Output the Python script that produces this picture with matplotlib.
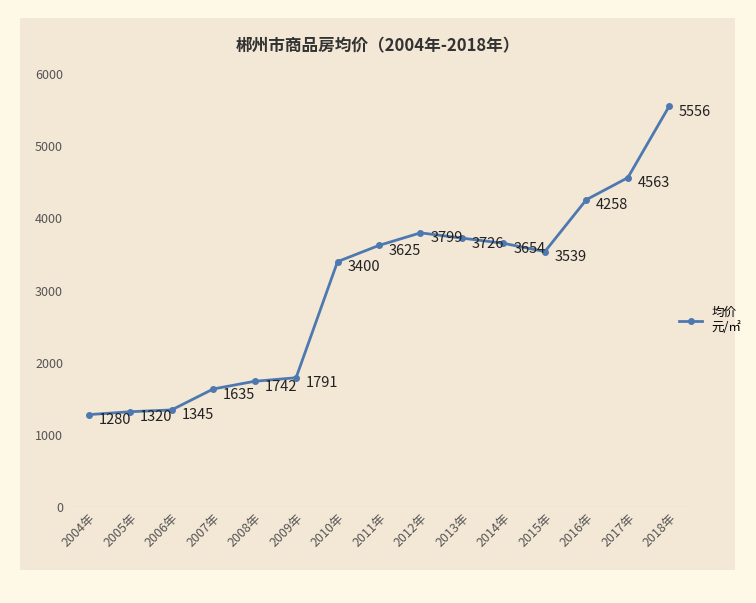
import matplotlib
matplotlib.use("Agg")
import matplotlib.pyplot as plt
from matplotlib.patches import Rectangle
from matplotlib import font_manager as fm

names = sorted({f.name for f in fm.fontManager.ttflist})
cjk = next((n for n in names if "Sans CJK SC" in n), None) or next((n for n in names if "Sans CJK" in n), "Noto Sans CJK SC")
plt.rcParams["font.family"] = "sans-serif"
plt.rcParams["font.sans-serif"] = [cjk, "DejaVu Sans"]

years = ["2004年","2005年","2006年","2007年","2008年","2009年","2010年","2011年","2012年",
         "2013年","2014年","2015年","2016年","2017年","2018年"]
prices = [1280,1320,1345,1635,1742,1791,3400,3625,3799,3726,3654,3539,4258,4563,5556]
yticks = [0,1000,2000,3000,4000,5000,6000]

fig = plt.figure(figsize=(7.56,6.03), dpi=100)
fig.patch.set_facecolor("#FEF8E6")
fig.patches.append(Rectangle((20/756, 33/603), 715/756, 552/603, transform=fig.transFigure,
                             facecolor="#F3E7D6", edgecolor="none", zorder=-5))
ax = fig.add_axes([68/756, 1-507/603, 622/756, 433/603])
ax.set_zorder(2)
ax.set_facecolor("none")
x = list(range(len(years)))
ax.plot(x, prices, color="#4E79B0", lw=2, marker="o", ms=4, label="均价\n元/㎡")
for xi, v in zip(x, prices):
    ax.annotate(str(v), (xi, v), xytext=(7, -4), textcoords="offset points",
                fontsize=10.5, color="#222222", va="center")
ax.set_xlim(-0.5, len(years)-0.5)
ax.set_ylim(0, 6000)
ax.set_yticks(yticks)
ax.set_xticks(x)
ax.set_xticklabels(years, rotation=45, ha="right", rotation_mode="anchor", fontsize=9, color="#555555")
ax.tick_params(axis="y", labelsize=9, colors="#555555", length=0)
ax.tick_params(axis="x", length=0)
for s in ax.spines.values():
    s.set_visible(False)
ax.axhline(0, color="#BFBFBF", lw=0.8)
fig.text(0.5, 1-46/603, "郴州市商品房均价（2004年-2018年）", ha="center", va="center",
         fontsize=12, fontweight="bold", color="#333333")
fig.legend(loc="center left", bbox_to_anchor=(668/756, 1-320/603), frameon=False,
           fontsize=9, handlelength=1.8)
fig.savefig("out.png", dpi=100, facecolor=fig.get_facecolor())
